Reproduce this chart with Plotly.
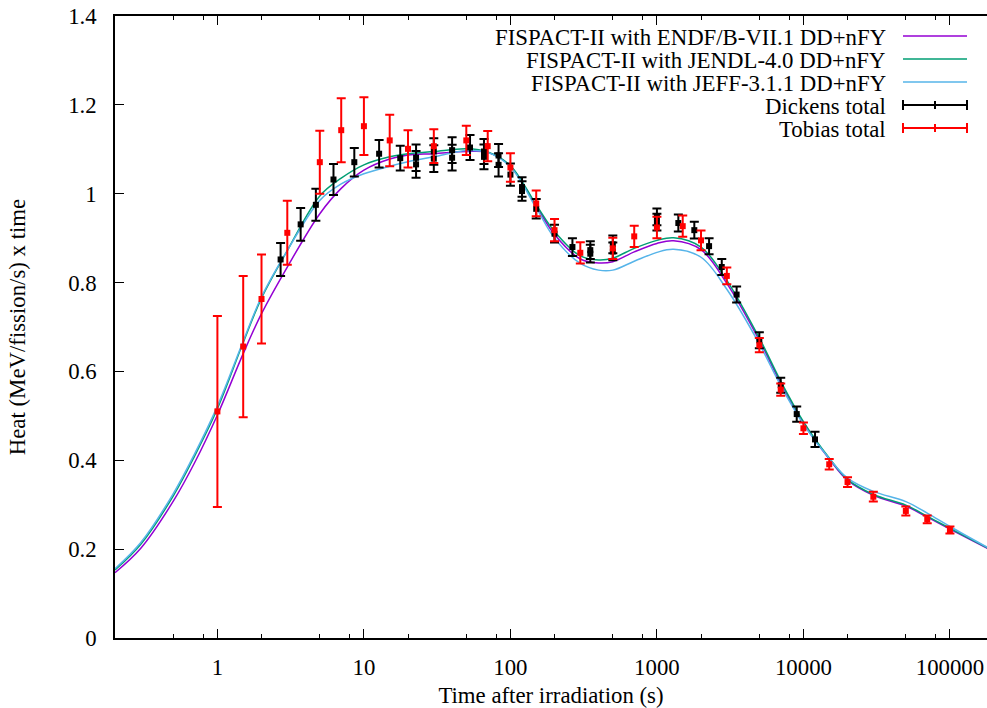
import plotly.graph_objects as go

# ---- model calculations: heat x time vs cooling time ----
model_t = [0.2, 0.3, 0.5, 0.7, 1, 1.5, 2, 3, 5, 7, 10, 15, 20, 30, 50, 70, 100,
           150, 200, 300, 400, 500, 700, 1000, 1300, 2000, 3000, 5000, 7000,
           10000, 15000, 20000, 30000, 50000, 70000, 100000, 180000]

endf_heat = [0.147, 0.202, 0.308, 0.395, 0.502, 0.640, 0.730, 0.835, 0.955, 1.012,
             1.053, 1.078, 1.087, 1.090, 1.095, 1.093, 1.062,
             0.972, 0.908, 0.853, 0.844, 0.847, 0.869, 0.888, 0.894, 0.874, 0.798,
             0.670, 0.573, 0.483, 0.403, 0.355, 0.321, 0.297, 0.272, 0.245, 0.202]

jendl_heat = [0.153, 0.211, 0.320, 0.410, 0.516, 0.665, 0.765, 0.872, 0.995, 1.035,
              1.065, 1.083, 1.090, 1.095, 1.101, 1.094, 1.063,
              0.975, 0.915, 0.860, 0.851, 0.855, 0.877, 0.895, 0.901, 0.880, 0.805,
              0.675, 0.578, 0.487, 0.405, 0.357, 0.323, 0.299, 0.274, 0.247, 0.203]

jeff_heat = [0.156, 0.215, 0.325, 0.415, 0.522, 0.668, 0.768, 0.872, 0.985, 1.022,
             1.045, 1.062, 1.072, 1.083, 1.097, 1.093, 1.060,
             0.968, 0.900, 0.843, 0.828, 0.828, 0.848, 0.868, 0.875, 0.857, 0.785,
             0.662, 0.568, 0.481, 0.404, 0.360, 0.330, 0.307, 0.281, 0.251, 0.204]

# ---- measurements ----
dickens_t = [2.7, 3.7, 4.7, 6.2, 8.6, 12.7, 17.7, 22.7, 22.7, 30, 30, 40, 40, 53,
             66, 66, 83, 83, 100, 120, 120, 150, 200, 265, 351, 351, 500, 500,
             1000, 1000, 1400, 1800, 2270, 2770, 3500, 5000, 7000, 9000, 12000]
dickens_heat = [0.852, 0.931, 0.975, 1.032, 1.071, 1.090, 1.080, 1.081, 1.066, 1.095,
                1.079, 1.098, 1.081, 1.104, 1.095, 1.083, 1.086, 1.065, 1.043, 1.015,
                1.006, 0.966, 0.910, 0.880, 0.873, 0.865, 0.886, 0.870, 0.948, 0.936,
                0.934, 0.918, 0.882, 0.835, 0.773, 0.670, 0.569, 0.504, 0.447]
dickens_err = [0.037, 0.037, 0.036, 0.035, 0.032, 0.031, 0.028, 0.030, 0.030, 0.030,
               0.030, 0.029, 0.029, 0.028, 0.028, 0.028, 0.026, 0.026, 0.025, 0.022,
               0.022, 0.022, 0.020, 0.020, 0.020, 0.020, 0.020, 0.020, 0.019, 0.019,
               0.019, 0.019, 0.018, 0.018, 0.018, 0.018, 0.017, 0.017, 0.017]

tobias_t = [1, 1.5, 2, 3, 5, 7, 10, 15, 20, 30, 50, 70, 100, 150, 200, 300, 500,
            700, 1000, 1500, 2000, 3000, 5000, 7000, 10000, 15000, 20000, 30000,
            50000, 70000, 100000]
tobias_heat = [0.510, 0.656, 0.763, 0.912, 1.071, 1.143, 1.152, 1.120, 1.101, 1.107,
               1.120, 1.107, 1.059, 0.978, 0.918, 0.867, 0.877, 0.904, 0.924, 0.927,
               0.895, 0.815, 0.659, 0.559, 0.472, 0.391, 0.351, 0.318, 0.286, 0.267,
               0.243]
tobias_err = [0.215, 0.159, 0.100, 0.072, 0.071, 0.072, 0.065, 0.058, 0.042, 0.038,
              0.033, 0.034, 0.032, 0.029, 0.025, 0.024, 0.024, 0.024, 0.024, 0.024,
              0.022, 0.019, 0.016, 0.014, 0.013, 0.012, 0.011, 0.011, 0.010, 0.009,
              0.008]

series_names = ["FISPACT-II with ENDF/B-VII.1 DD+nFY",
                "FISPACT-II with JENDL-4.0 DD+nFY",
                "FISPACT-II with JEFF-3.1.1 DD+nFY",
                "Dickens total",
                "Tobias total"]

x_tick_vals = [1, 10, 100, 1000, 10000, 100000]
x_tick_text = ["1", "10", "100", "1000", "10000", "100000"]
y_tick_vals = [0, 0.2, 0.4, 0.6, 0.8, 1.0, 1.2, 1.4]
y_tick_text = ["0", "0.2", "0.4", "0.6", "0.8", "1", "1.2", "1.4"]
x_minor_vals = [m * 10.0 ** e for e in range(-1, 6) for m in (2, 5, 8)]

# ---- styling ----
FONT = "Liberation Serif, Times New Roman, Times, DejaVu Serif, serif"
FS = 22.8
W, H = 987, 708
ML, MR, MT, MB = 115, 0, 16, 70
model_colors = ["#9400d3", "#009e73", "#56b4e9"]
data_colors = ["#000000", "#ff0000"]

fig = go.Figure()

for name, heat, col in zip(series_names[:3], [endf_heat, jendl_heat, jeff_heat], model_colors):
    fig.add_trace(go.Scatter(
        x=model_t, y=heat, mode="lines", name=name,
        line=dict(color=col, width=1.5, shape="spline", smoothing=1.0),
        showlegend=False))

for name, tt, vv, ee, col in [(series_names[3], dickens_t, dickens_heat, dickens_err, data_colors[0]),
                              (series_names[4], tobias_t, tobias_heat, tobias_err, data_colors[1])]:
    fig.add_trace(go.Scatter(
        x=tt, y=vv, mode="markers", name=name,
        marker=dict(symbol="square", size=6, color=col),
        error_y=dict(type="data", array=ee, visible=True, color=col,
                     thickness=2, width=4.5),
        showlegend=False))

# ---- key (text on the left, sample on the right) ----
pw = W - ML - MR
ph = H - MT - MB

def px_x(p):
    return (p - ML) / pw

def px_y(p):
    return (H - MB - p) / ph

shapes = []
annotations = []
key_rows = [36, 59, 82, 105, 128]
key_x0, key_x1, key_mid = 903, 967, 935
for i, (name, row) in enumerate(zip(series_names, key_rows)):
    annotations.append(dict(
        text=name, xref="paper", yref="paper", x=px_x(888), y=px_y(row + 1),
        xanchor="right", yanchor="middle", showarrow=False, height=22,
        font=dict(family=FONT, size=FS, color="black")))
    col = model_colors[i] if i < 3 else data_colors[i - 3]
    shapes.append(dict(type="line", xref="paper", yref="paper",
                       x0=px_x(key_x0), x1=px_x(key_x1), y0=px_y(row), y1=px_y(row),
                       line=dict(color=col, width=1.5 if i < 3 else 2)))
    if i >= 3:
        for xc, half in [(key_x0, 5), (key_x1, 5), (key_mid, 4)]:
            shapes.append(dict(type="line", xref="paper", yref="paper",
                               x0=px_x(xc), x1=px_x(xc),
                               y0=px_y(row - half), y1=px_y(row + half),
                               line=dict(color=col, width=2)))

fig.update_layout(
    width=W, height=H,
    margin=dict(l=ML, r=MR, t=MT, b=MB, pad=0),
    paper_bgcolor="white", plot_bgcolor="white",
    font=dict(family=FONT, size=FS, color="black"),
    showlegend=False,
    shapes=shapes, annotations=annotations,
)

fig.update_xaxes(
    type="log", range=[-0.69897, 5.253],
    tickmode="array", tickvals=x_tick_vals, ticktext=x_tick_text,
    ticks="inside", ticklen=9, tickwidth=1.2, tickcolor="black",
    minor=dict(tickmode="array", tickvals=x_minor_vals, ticks="inside",
               ticklen=4.5, tickwidth=1.2, tickcolor="black", showgrid=False),
    showline=True, linecolor="black", linewidth=1.5, mirror="ticks",
    showgrid=False, zeroline=False,
    tickfont=dict(family=FONT, size=FS), ticklabelstandoff=8,
    title=dict(text="Time after irradiation (s)", font=dict(family=FONT, size=FS), standoff=11),
)

fig.update_yaxes(
    range=[0, 1.4],
    tickmode="array", tickvals=y_tick_vals, ticktext=y_tick_text,
    ticks="inside", ticklen=9, tickwidth=1.2, tickcolor="black",
    showline=True, linecolor="black", linewidth=1.5, mirror=False,
    showgrid=False, zeroline=False,
    tickfont=dict(family=FONT, size=FS), ticklabelstandoff=12,
    title=dict(text="Heat (MeV/fission/s) x time", font=dict(family=FONT, size=FS), standoff=36),
)

fig.write_html("out.html")
